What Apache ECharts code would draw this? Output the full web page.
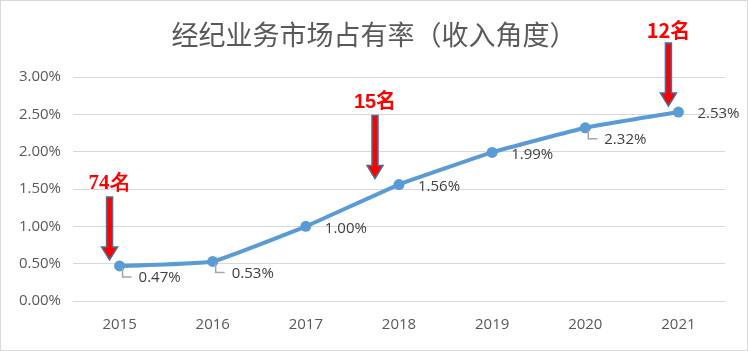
<!DOCTYPE html>
<html>
<head>
<meta charset="utf-8">
<script src="https://cdn.jsdelivr.net/npm/echarts@6/dist/echarts.min.js"></script>
<style>
	html, body { margin: 0; padding: 0; background: #fff; }
	#main { width: 746px; height: 349px; border: 1px solid #D9D9D9; }
</style>
</head>
<body>
<div id="main"></div>
<script>
var years = ['2015', '2016', '2017', '2018', '2019', '2020', '2021'];
var shares = [0.47, 0.53, 1.00, 1.56, 1.99, 2.32, 2.53];
var rankYears = [0, 3, 6];
var rankTexts = ['74名', '15名', '12名'];
var yTicks = [0, 0.5, 1, 1.5, 2, 2.5, 3];

var myChart = echarts.init(document.getElementById('main'));

// 带引导线的数据标签
var leaderIdx = [0, 1, 5];
var labelFont = '15px "Open Sans", sans-serif';
function renderLabel(params, api) {
	var i = params.dataIndex;
	var p = api.coord([api.value(0), api.value(1)]);
	var txt = shares[i].toFixed(2) + '%';
	var children = [];
	if (leaderIdx.indexOf(i) >= 0) {
		children.push({
			type: 'polyline',
			shape: { points: [[p[0] + 3, p[1] + 2], [p[0] + 3, p[1] + 11], [p[0] + 12, p[1] + 11]] },
			style: { stroke: '#A6A6A6', lineWidth: 1.5, fill: null }
		});
		children.push({
			type: 'text',
			x: p[0] + 19, y: p[1] + 12,
			style: { text: txt, fill: '#404040', font: labelFont, align: 'left', verticalAlign: 'middle' }
		});
	} else {
		children.push({
			type: 'text',
			x: p[0] + 19, y: p[1] + 2,
			style: { text: txt, fill: '#404040', font: labelFont, align: 'left', verticalAlign: 'middle' }
		});
	}
	return { type: 'group', children: children };
}

// 排名箭头
var arrowDx = [-10, -24, -10];
var rankFonts = [
	'bold 21px "Liberation Serif", "DejaVu Serif", serif',
	'bold 20px "Liberation Sans", "Noto Sans CJK SC", sans-serif',
	'bold 20px "Liberation Sans Narrow", "Noto Sans CJK SC", sans-serif'
];
function renderArrow(params, api) {
	var k = params.dataIndex;
	var p = api.coord([api.value(0), api.value(1)]);
	var x = p[0] + arrowDx[k];
	var tip = p[1] - 6;
	var top = tip - 63;
	return {
		type: 'group',
		children: [{
			type: 'polygon',
			shape: { points: [[x - 3, top], [x + 3, top], [x + 3, tip - 13], [x + 8, tip - 13], [x, tip], [x - 8, tip - 13], [x - 3, tip - 13]] },
			style: { fill: '#FF0000', stroke: '#41719C', lineWidth: 1.5 }
		}, {
			type: 'text',
			x: x, y: top - 13,
			style: { text: rankTexts[k], fill: '#FF0000', font: rankFonts[k], align: 'center', verticalAlign: 'middle' }
		}]
	};
}

option = {
	animation: false,
	title: {
		text: '经纪业务市场占有率（收入角度）',
		left: 'center',
		top: 15,
		textStyle: { color: '#595959', fontSize: 27, fontWeight: 'normal', fontFamily: '"Noto Sans CJK SC", sans-serif' }
	},
	grid: { left: 72, right: 22, top: 76, bottom: 49 },
	xAxis: {
		type: 'category',
		data: years,
		boundaryGap: true,
		axisLine: { lineStyle: { color: '#D9D9D9', width: 1 } },
		axisTick: { show: false },
		axisLabel: { color: '#595959', fontSize: 15, margin: 16, fontFamily: '"Open Sans", sans-serif' }
	},
	yAxis: {
		type: 'value',
		min: yTicks[0],
		max: yTicks[yTicks.length - 1],
		interval: 0.5,
		axisLine: { show: false },
		axisTick: { show: false },
		axisLabel: {
			color: '#595959', fontSize: 15, margin: 12, fontFamily: '"Open Sans", sans-serif',
			formatter: function(v) { return v.toFixed(2) + '%'; }
		},
		splitLine: { lineStyle: { color: '#D9D9D9', width: 1 } }
	},
	series: [{
		type: 'line',
		data: shares,
		smooth: 0.1,
		symbol: 'circle',
		symbolSize: 11,
		lineStyle: { color: '#5B9BD5', width: 4 },
		itemStyle: { color: '#5B9BD5' },
		z: 3
	}, {
		type: 'custom',
		renderItem: renderLabel,
		data: shares.map(function(v, i) { return [i, v]; }),
		z: 4
	}, {
		type: 'custom',
		renderItem: renderArrow,
		data: rankYears.map(function(i) { return [i, shares[i]]; }),
		z: 5
	}]
};
myChart.setOption(option);
</script>
</body>
</html>
